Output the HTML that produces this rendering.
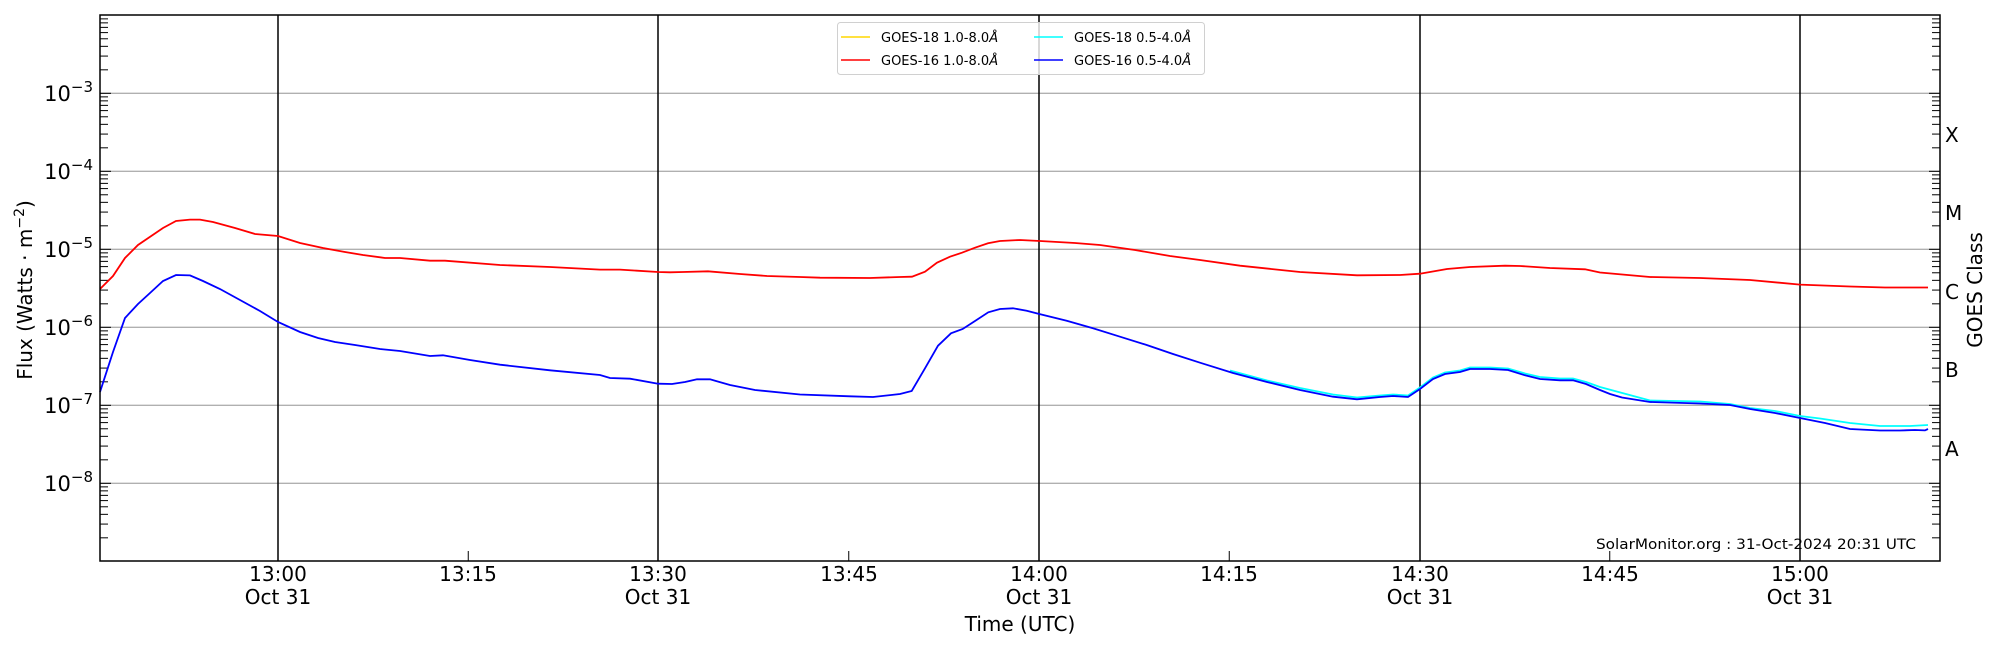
<!DOCTYPE html>
<html><head><meta charset="utf-8"><style>
html,body{margin:0;padding:0;background:#fff;}
svg{display:block;font-family:"DejaVu Sans","Liberation Sans",sans-serif;}
</style></head><body>
<svg width="2000" height="650" viewBox="0 0 2000 650" xmlns="http://www.w3.org/2000/svg">
<defs>
<g id="dec" stroke="#000" stroke-width="1">
<line x1="100" x2="111" y1="0" y2="0"/><line x1="1929" x2="1940" y1="0" y2="0"/>
<line x1="100" x2="108" y1="-23.48" y2="-23.48"/><line x1="1932" x2="1940" y1="-23.48" y2="-23.48"/>
<line x1="100" x2="108" y1="-37.22" y2="-37.22"/><line x1="1932" x2="1940" y1="-37.22" y2="-37.22"/>
<line x1="100" x2="108" y1="-46.96" y2="-46.96"/><line x1="1932" x2="1940" y1="-46.96" y2="-46.96"/>
<line x1="100" x2="108" y1="-54.52" y2="-54.52"/><line x1="1932" x2="1940" y1="-54.52" y2="-54.52"/>
<line x1="100" x2="108" y1="-60.70" y2="-60.70"/><line x1="1932" x2="1940" y1="-60.70" y2="-60.70"/>
<line x1="100" x2="108" y1="-65.92" y2="-65.92"/><line x1="1932" x2="1940" y1="-65.92" y2="-65.92"/>
<line x1="100" x2="108" y1="-70.44" y2="-70.44"/><line x1="1932" x2="1940" y1="-70.44" y2="-70.44"/>
<line x1="100" x2="108" y1="-74.43" y2="-74.43"/><line x1="1932" x2="1940" y1="-74.43" y2="-74.43"/>
</g>
<clipPath id="ax"><rect x="100" y="15" width="1840" height="546"/></clipPath>
</defs>
<rect width="2000" height="650" fill="#fff"/>
<g stroke="#b0b0b0" stroke-width="1.3">
<line x1="100" x2="1940" y1="93.3" y2="93.3"/>
<line x1="100" x2="1940" y1="171.3" y2="171.3"/>
<line x1="100" x2="1940" y1="249.3" y2="249.3"/>
<line x1="100" x2="1940" y1="327.3" y2="327.3"/>
<line x1="100" x2="1940" y1="405.3" y2="405.3"/>
<line x1="100" x2="1940" y1="483.3" y2="483.3"/>
</g>
<g stroke="#000" stroke-width="1.5">
<line x1="278" x2="278" y1="15" y2="561"/>
<line x1="658" x2="658" y1="15" y2="561"/>
<line x1="1039" x2="1039" y1="15" y2="561"/>
<line x1="1420" x2="1420" y1="15" y2="561"/>
<line x1="1800" x2="1800" y1="15" y2="561"/>
</g>
<g clip-path="url(#ax)">
<use href="#dec" transform="translate(0,93.3)"/>
<use href="#dec" transform="translate(0,171.3)"/>
<use href="#dec" transform="translate(0,249.3)"/>
<use href="#dec" transform="translate(0,327.3)"/>
<use href="#dec" transform="translate(0,405.3)"/>
<use href="#dec" transform="translate(0,483.3)"/>
<use href="#dec" transform="translate(0,561.3)"/>
</g>
<g stroke="#000" stroke-width="1">
<line x1="468.25" x2="468.25" y1="551" y2="561"/>
<line x1="848.75" x2="848.75" y1="551" y2="561"/>
<line x1="1229.25" x2="1229.25" y1="551" y2="561"/>
<line x1="1609.75" x2="1609.75" y1="551" y2="561"/>
</g>
<polyline fill="none" stroke="#00ffff" stroke-width="1.8" points="1230,370.5 1267,380.5 1300,388 1333,394.5 1357,397.5 1380,395.5 1393,394.5 1408,395.5 1420,387.5 1433,377.5 1445,372.5 1460,370.5 1470,367.5 1490,367.5 1508,368.5 1525,373.5 1540,377 1560,378.5 1573,378.5 1586,382 1600,387 1650,400.5 1700,401.5 1730,404 1750,408 1775,411 1800,416 1820,418.5 1850,423 1880,426 1910,426 1928,425"/>
<polyline fill="none" stroke="#0000ff" stroke-width="1.8" points="100,392 113,352 125,318 138,304 150,293 163,281 176,275 190,275.4 203,281 220,289 240,300 260,311 278,322 300,332 318,338 335,342 355,345 380,349 400,351 430,356 443,355.3 470,360 500,364.7 550,370.3 600,375 610,378 630,378.7 658,383.7 672,384 685,382 697,379.3 710,379.3 730,385 755,390 800,394.5 850,396.3 873,397 900,394 911.7,391 925,368.3 938,345.7 951,333.3 962.7,329 975,321 988.3,312.3 1000,309 1013,308.3 1026.7,310.7 1039.3,314 1066.7,320.7 1093,328.3 1120,336.7 1146.7,345 1173,354 1200,362.7 1233,373 1267,382 1300,390 1333,396.7 1357,399.3 1380,397 1393,396 1408,397 1420,389 1433,379 1445,374 1460,372 1470,369 1490,369 1508,370 1525,375.3 1540,379 1560,380.3 1573,380.3 1586,384 1600,390 1610,394 1622,397.5 1650,402 1700,403.5 1730,405 1750,409 1775,413 1800,418 1825,423 1850,429 1880,430.5 1900,430.5 1915,430 1925,430.4 1928,429"/>
<polyline fill="none" stroke="#ff0000" stroke-width="1.8" points="100,289 113,276 125,258 138,245 163,228 176,221 190,219.6 200,219.6 213,222 235,228 255,234 278,236 300,243 323,248 345,252 363,255 385,258 400,258 430,260.7 445,260.7 500,265 550,267 600,269.6 620,269.6 658,272 670,272.3 683,272 708,271.3 740,274 767,276 800,277 820,277.7 870,278 900,277 912,276.7 925,271.7 937,262.7 950,256.7 962,252.7 975,247.7 988,243.3 1000,241 1020,240 1040,241 1075,243 1100,245 1135,250 1170,256 1200,260 1240,265.7 1300,272 1357,275.3 1400,275 1420,273.7 1447,269 1470,267 1505,265.7 1520,266 1550,268 1585,269.3 1600,272.5 1650,277 1700,278 1750,280 1800,284.6 1850,286.5 1885,287.5 1928,287.5"/>
<!-- legend -->
<rect x="837.5" y="22.5" width="367" height="52" rx="3" fill="#fff" fill-opacity="0.8" stroke="#d0d0d0" stroke-width="1"/>
<g stroke-width="1.5">
<line x1="841" x2="870" y1="37" y2="37" stroke="#ffd700"/>
<line x1="841" x2="870" y1="60" y2="60" stroke="#ff0000"/>
<line x1="1034" x2="1063" y1="37" y2="37" stroke="#00ffff"/>
<line x1="1034" x2="1063" y1="60" y2="60" stroke="#0000ff"/>
</g>
<g font-size="13" fill="#000">
<text x="881" y="42">GOES-18 1.0-8.0<tspan font-style="italic">Å</tspan></text>
<text x="881" y="65">GOES-16 1.0-8.0<tspan font-style="italic">Å</tspan></text>
<text x="1074" y="42">GOES-18 0.5-4.0<tspan font-style="italic">Å</tspan></text>
<text x="1074" y="65">GOES-16 0.5-4.0<tspan font-style="italic">Å</tspan></text>
</g>
<rect x="100" y="15" width="1840" height="546" fill="none" stroke="#000" stroke-width="1.5"/>
<g font-size="21" fill="#000" text-anchor="end">
<text x="93" y="101">10<tspan font-size="15" dy="-9">−3</tspan></text>
<text x="93" y="179">10<tspan font-size="15" dy="-9">−4</tspan></text>
<text x="93" y="257">10<tspan font-size="15" dy="-9">−5</tspan></text>
<text x="93" y="335">10<tspan font-size="15" dy="-9">−6</tspan></text>
<text x="93" y="413">10<tspan font-size="15" dy="-9">−7</tspan></text>
<text x="93" y="491">10<tspan font-size="15" dy="-9">−8</tspan></text>
</g>
<g font-size="20" fill="#000" text-anchor="middle">
<text x="278" y="581">13:00</text><text x="278" y="604">Oct 31</text>
<text x="468" y="581">13:15</text>
<text x="658" y="581">13:30</text><text x="658" y="604">Oct 31</text>
<text x="849" y="581">13:45</text>
<text x="1039" y="581">14:00</text><text x="1039" y="604">Oct 31</text>
<text x="1229" y="581">14:15</text>
<text x="1420" y="581">14:30</text><text x="1420" y="604">Oct 31</text>
<text x="1610" y="581">14:45</text>
<text x="1800" y="581">15:00</text><text x="1800" y="604">Oct 31</text>
<text x="1020" y="631">Time (UTC)</text>
<text transform="translate(32,290) rotate(-90)">Flux (Watts · m<tspan font-size="14" dy="-8">−2</tspan><tspan dy="8">)</tspan></text>
<text transform="translate(1982,290) rotate(-90)">GOES Class</text>
</g>
<g font-size="20" fill="#000">
<text x="1945" y="142">X</text>
<text x="1945" y="220">M</text>
<text x="1945" y="299">C</text>
<text x="1945" y="377">B</text>
<text x="1945" y="456">A</text>
</g>
<text x="1916" y="549" font-size="14" text-anchor="end" textLength="320" lengthAdjust="spacingAndGlyphs" fill="#000">SolarMonitor.org : 31-Oct-2024 20:31 UTC</text>
</svg>
</body></html>
